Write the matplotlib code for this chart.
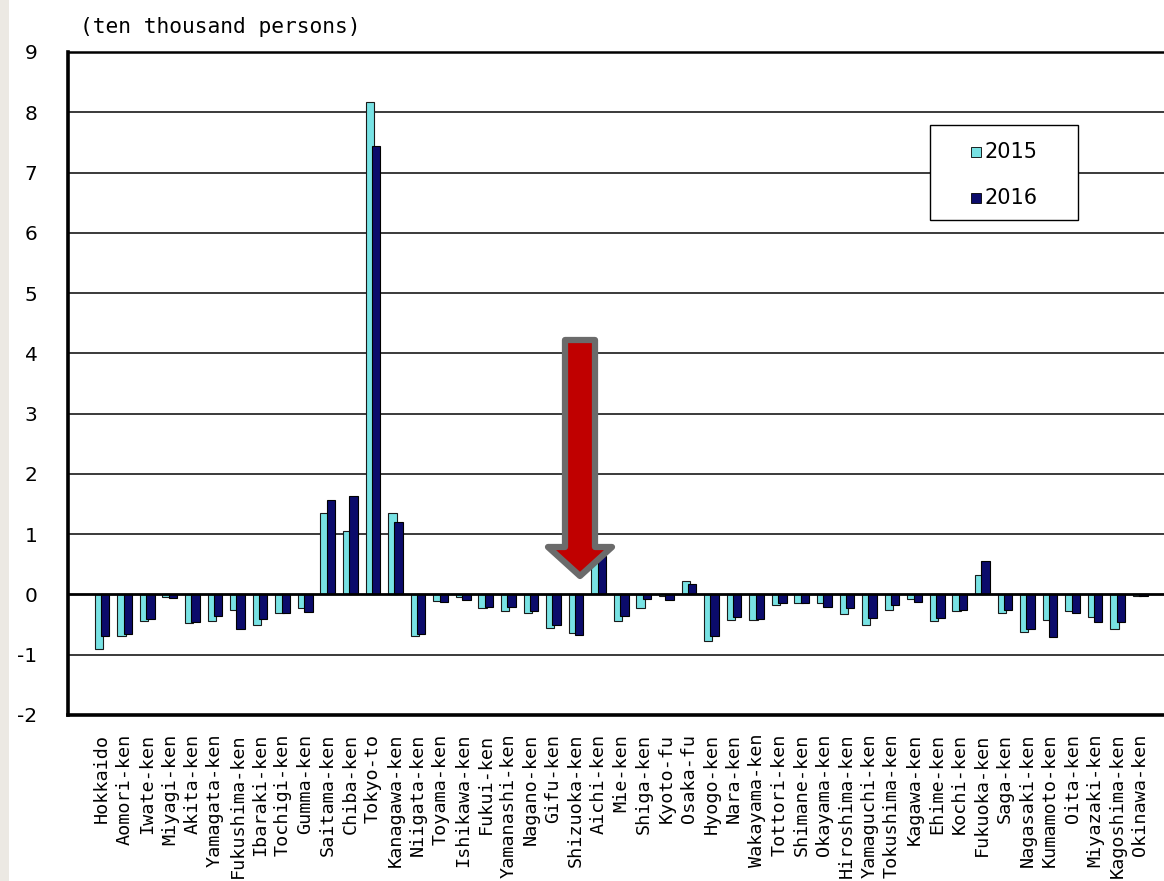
import matplotlib
matplotlib.use("Agg")
import matplotlib.pyplot as plt
from matplotlib.patches import Rectangle, Polygon
import numpy as np

prefectures = ["Hokkaido", "Aomori-ken", "Iwate-ken", "Miyagi-ken", "Akita-ken", "Yamagata-ken",
               "Fukushima-ken", "Ibaraki-ken", "Tochigi-ken", "Gumma-ken", "Saitama-ken", "Chiba-ken",
               "Tokyo-to", "Kanagawa-ken", "Niigata-ken", "Toyama-ken", "Ishikawa-ken", "Fukui-ken",
               "Yamanashi-ken", "Nagano-ken", "Gifu-ken", "Shizuoka-ken", "Aichi-ken", "Mie-ken",
               "Shiga-ken", "Kyoto-fu", "Osaka-fu", "Hyogo-ken", "Nara-ken", "Wakayama-ken",
               "Tottori-ken", "Shimane-ken", "Okayama-ken", "Hiroshima-ken", "Yamaguchi-ken",
               "Tokushima-ken", "Kagawa-ken", "Ehime-ken", "Kochi-ken", "Fukuoka-ken", "Saga-ken",
               "Nagasaki-ken", "Kumamoto-ken", "Oita-ken", "Miyazaki-ken", "Kagoshima-ken", "Okinawa-ken"]

v2015 = [-0.91, -0.69, -0.44, -0.04, -0.48, -0.44, -0.26, -0.51, -0.31, -0.22,
         1.35, 1.05, 8.17, 1.35, -0.69, -0.11, -0.04, -0.22, -0.28, -0.31,
         -0.56, -0.64, 0.58, -0.44, -0.22, -0.03, 0.22, -0.78, -0.43, -0.43,
         -0.17, -0.14, -0.15, -0.32, -0.51, -0.25, -0.07, -0.44, -0.27, 0.33,
         -0.30, -0.62, -0.43, -0.27, -0.38, -0.57, -0.02]

v2016 = [-0.69, -0.65, -0.40, -0.06, -0.46, -0.36, -0.58, -0.40, -0.31, -0.29,
         1.57, 1.63, 7.44, 1.21, -0.65, -0.12, -0.09, -0.21, -0.21, -0.28,
         -0.50, -0.67, 0.63, -0.36, -0.07, -0.09, 0.18, -0.69, -0.37, -0.40,
         -0.15, -0.14, -0.21, -0.23, -0.39, -0.18, -0.12, -0.39, -0.25, 0.55,
         -0.25, -0.57, -0.71, -0.30, -0.46, -0.46, -0.03]

series_labels = ["2015", "2016"]
yticks = list(range(-2, 10))
unit_label = "(ten thousand persons)"

W, H = 1164, 881
fig = plt.figure(figsize=(W / 100, H / 100), dpi=100)
fig.patch.set_facecolor("white")

def fx(px):
    return px / W

def fy(py):
    return 1 - py / H

# left beige strip
fig.add_artist(Rectangle((0, 0), fx(9), 1, transform=fig.transFigure,
                         facecolor="#ECE9E3", edgecolor="none", zorder=0))

ax = fig.add_axes([fx(68), fy(715), 1 - fx(68), fy(52) - fy(715)])
x = np.arange(len(prefectures))
c2015 = "#78E2E4"
c2016 = "#0B0B6B"
bw = 0.37
ax.bar(x - 0.14, v2015, width=bw, color=c2015, edgecolor="#1a1a1a", linewidth=0.8, zorder=3)
ax.bar(x + 0.14, v2016, width=bw, color=c2016, edgecolor="#000000", linewidth=0.8, zorder=4)

ax.set_xlim(-1.51, 47.05)
ax.set_ylim(-2, 9)
ax.set_yticks(yticks)
ax.set_yticklabels([str(t) for t in yticks], fontsize=14.5, family="DejaVu Sans")
ax.tick_params(axis="y", length=0, pad=22)
ax.set_xticks(x)
ax.set_xticklabels(prefectures, rotation=90, fontsize=13.3, family="DejaVu Sans Mono")
ax.tick_params(axis="x", length=0, pad=13.5)

for t in yticks:
    if t == 0:
        ax.axhline(0, color="black", linewidth=2.0, zorder=5)
    elif t not in (-2, 9):
        ax.axhline(t, color="#2b2b2b", linewidth=1.3, zorder=1)

for side in ["left", "bottom"]:
    ax.spines[side].set_linewidth(2.6)
    ax.spines[side].set_color("black")
ax.spines["top"].set_linewidth(1.8)
ax.spines["right"].set_visible(False)

fig.text(fx(80), fy(37), unit_label, fontsize=15.3, family="DejaVu Sans Mono",
         ha="left", va="bottom")

# legend
fig.add_artist(Rectangle((fx(930), fy(220)), fx(1078) - fx(930), fy(125) - fy(220),
                         transform=fig.transFigure, facecolor="white", edgecolor="black",
                         linewidth=1.0, zorder=10))
for lab, col, yc in [(series_labels[0], c2015, 152), (series_labels[1], c2016, 198)]:
    fig.add_artist(Rectangle((fx(971), fy(yc + 5)), fx(10), 10 / H, transform=fig.transFigure,
                             facecolor=col, edgecolor="black", linewidth=0.6, zorder=11))
    fig.text(fx(984), fy(yc), lab, fontsize=15, family="DejaVu Sans", ha="left",
             va="center", zorder=12)

# red arrow annotation
pts = [(565, 340), (595, 340), (595, 547), (612, 547), (580, 576), (548, 547), (565, 547)]
fig.add_artist(Polygon([(fx(px), fy(py)) for px, py in pts], closed=True,
                       transform=fig.transFigure, facecolor="#C00000", edgecolor="#6b6b6b",
                       linewidth=4.5, joinstyle="round", zorder=20))

fig.savefig("out.png", dpi=100)
